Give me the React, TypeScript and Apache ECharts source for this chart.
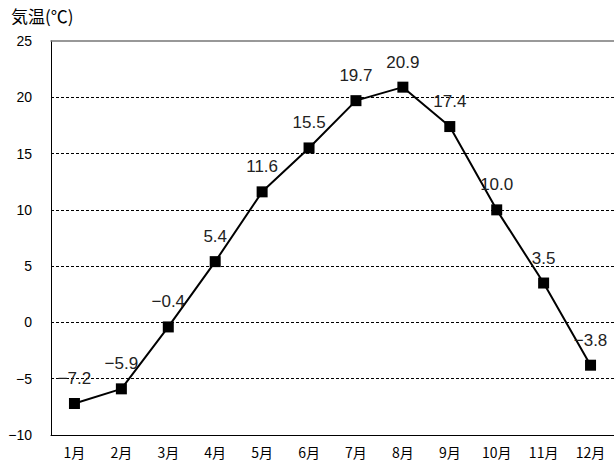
import React, { useEffect, useRef } from "react";
import * as echarts from "echarts";

const months = ["1月", "2月", "3月", "4月", "5月", "6月", "7月", "8月", "9月", "10月", "11月", "12月"];
const temps = [-7.2, -5.9, -0.4, 5.4, 11.6, 15.5, 19.7, 20.9, 17.4, 10.0, 3.5, -3.8];
const yTitle = "気温(℃)";

const font = "'Liberation Sans', Arial, 'Noto Sans CJK JP', sans-serif";
const minus = (s: string) => s.replace("-", "−");

export default function App() {
  const ref = useRef<HTMLDivElement>(null);
  useEffect(() => {
    document.body.style.margin = "0";
    const chart = echarts.init(ref.current!, undefined, { renderer: "svg" });
    chart.setOption({
      animation: false,
      backgroundColor: "#fff",
      grid: { left: 51, right: -1, top: 41, bottom: 31 },
      graphic: [
        {
          type: "text",
          left: 11,
          top: 7,
          style: { text: yTitle, font: `17px 'Noto Sans CJK JP', sans-serif`, fill: "#000" },
        },
      ],
      xAxis: [
        {
          type: "category",
          data: months,
          boundaryGap: true,
          axisLine: { onZero: false, lineStyle: { color: "#000", width: 1 } },
          axisTick: { inside: true, length: 4, lineStyle: { color: "#000" } },
          axisLabel: { color: "#000", fontSize: 14, margin: 10, fontFamily: "'Noto Sans CJK JP', sans-serif" },
          splitLine: { show: false },
        },
        {
          type: "category",
          data: months,
          position: "top",
          axisLine: { show: true, onZero: false, lineStyle: { color: "#777", width: 1.5 } },
          axisTick: { show: false },
          axisLabel: { show: false },
          splitLine: { show: false },
        },
      ],
      yAxis: {
        type: "value",
        min: -10,
        max: 25,
        interval: 5,
        axisLine: { show: true, lineStyle: { color: "#000", width: 1 } },
        axisTick: { show: false },
        axisLabel: {
          color: "#000",
          fontSize: 14,
          margin: 19,
          fontFamily: font,
          formatter: (v: number) => minus(String(v)),
        },
        splitLine: {
          show: true,
          showMinLine: false,
          showMaxLine: false,
          lineStyle: { color: "#000", type: [3, 2], width: 1 },
        },
      },
      series: [
        {
          type: "line",
          data: temps,
          symbol: "rect",
          symbolSize: 11,
          itemStyle: { color: "#000" },
          lineStyle: { color: "#000", width: 2 },
          label: {
            show: true,
            position: "top",
            distance: 11,
            color: "#222",
            fontSize: 17,
            fontFamily: font,
            formatter: (p: any) => minus(Number(p.value).toFixed(1)),
          },
        },
      ],
    });
    return () => chart.dispose();
  }, []);
  return <div ref={ref} style={{ width: 614, height: 466 }} />;
}
